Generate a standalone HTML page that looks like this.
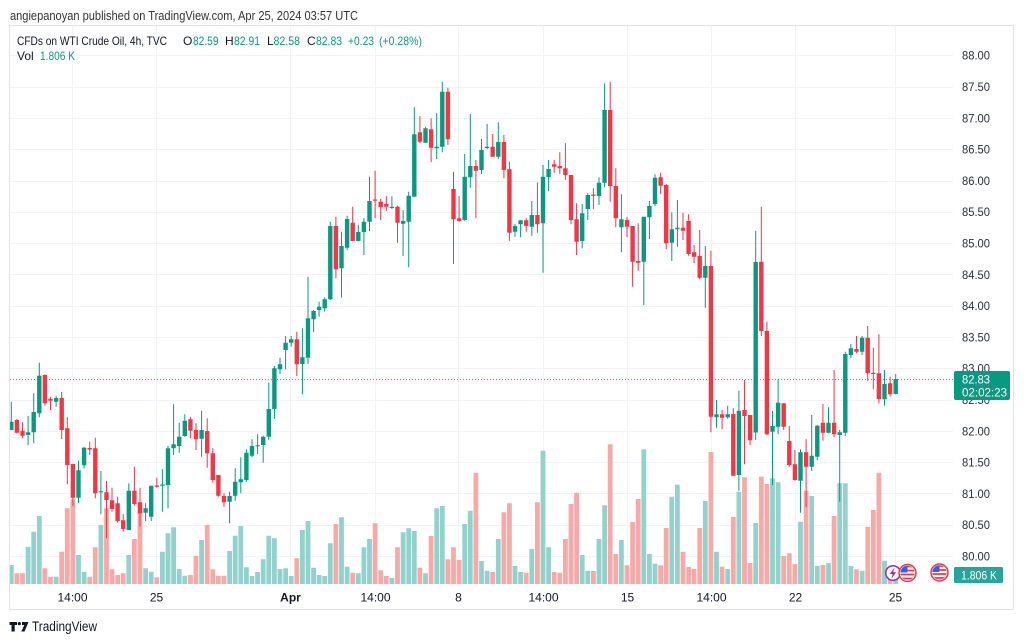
<!DOCTYPE html>
<html><head><meta charset="utf-8"><style>
html,body{margin:0;padding:0;background:#fff;}
svg{display:block;}
text{font-family:"Liberation Sans",Arial,sans-serif;}
</style></head><body>
<svg width="1024" height="643" viewBox="0 0 1024 643" xmlns="http://www.w3.org/2000/svg">
<rect width="1024" height="643" fill="#fff"/>
<text x="10" y="20" font-size="13" fill="#333" textLength="348" lengthAdjust="spacingAndGlyphs">angiepanoyan published on TradingView.com, Apr 25, 2024 03:57 UTC</text>
<rect x="9.5" y="25.5" width="1004" height="584" fill="none" stroke="#e0e3eb"/>
<g stroke="#f0f3fa" stroke-width="1">
<path d="M10 55.5H953M10 87.5H953M10 118.5H953M10 149.5H953M10 181.5H953M10 212.5H953M10 243.5H953M10 274.5H953M10 306.5H953M10 337.5H953M10 368.5H953M10 400.5H953M10 431.5H953M10 462.5H953M10 493.5H953M10 525.5H953M10 556.5H953"/>
<path d="M72.5 26V584M156.5 26V584M290.5 26V584M375.5 26V584M458.5 26V584M543.5 26V584M627.5 26V584M711.5 26V584M795.5 26V584M895.5 26V584"/>
</g>
<g font-size="12" fill="#131722">
<text x="17" y="45" textLength="150" lengthAdjust="spacingAndGlyphs">CFDs on WTI Crude Oil, 4h, TVC</text>
<text x="183" y="45">O</text><text x="193" y="45" fill="#089981" textLength="25.5" lengthAdjust="spacingAndGlyphs">82.59</text>
<text x="225" y="45">H</text><text x="234" y="45" fill="#089981" textLength="26" lengthAdjust="spacingAndGlyphs">82.91</text>
<text x="267" y="45">L</text><text x="273.5" y="45" fill="#089981" textLength="26.5" lengthAdjust="spacingAndGlyphs">82.58</text>
<text x="307" y="45">C</text><text x="316" y="45" fill="#089981" textLength="26" lengthAdjust="spacingAndGlyphs">82.83</text>
<text x="348" y="45" fill="#089981" textLength="26" lengthAdjust="spacingAndGlyphs">+0.23</text>
<text x="379" y="45" fill="#089981" textLength="43" lengthAdjust="spacingAndGlyphs">(+0.28%)</text>
<text x="17" y="60">Vol</text><text x="40" y="60" fill="#089981" textLength="35" lengthAdjust="spacingAndGlyphs">1.806 K</text>
</g>
<defs><clipPath id="plot"><rect x="10" y="26" width="943" height="558"/></clipPath></defs>
<g clip-path="url(#plot)">
<path fill="#92d2cc" d="M8.9 565h4.8V584h-4.8zM25.7 546.7h4.8V584h-4.8zM31.3 531.7h4.8V584h-4.8zM36.9 516h4.8V584h-4.8zM53.7 576.7h4.8V584h-4.8zM76.1 555h4.8V584h-4.8zM81.7 571.7h4.8V584h-4.8zM98.5 525h4.8V584h-4.8zM126.4 555h4.8V584h-4.8zM143.2 568.3h4.8V584h-4.8zM148.8 571.7h4.8V584h-4.8zM160 551.7h4.8V584h-4.8zM165.6 533.3h4.8V584h-4.8zM171.2 527.3h4.8V584h-4.8zM176.8 569h4.8V584h-4.8zM182.4 575.7h4.8V584h-4.8zM199.2 540h4.8V584h-4.8zM227.2 551h4.8V584h-4.8zM232.8 535.7h4.8V584h-4.8zM238.4 526h4.8V584h-4.8zM244 567.3h4.8V584h-4.8zM249.6 576h4.8V584h-4.8zM255.2 572h4.8V584h-4.8zM260.8 559.3h4.8V584h-4.8zM266.4 535.7h4.8V584h-4.8zM272 538.3h4.8V584h-4.8zM277.6 569h4.8V584h-4.8zM283.2 568.3h4.8V584h-4.8zM288.8 576h4.8V584h-4.8zM300 530h4.8V584h-4.8zM305.6 521h4.8V584h-4.8zM311.2 567.7h4.8V584h-4.8zM316.7 575h4.8V584h-4.8zM322.3 576h4.8V584h-4.8zM327.9 543.3h4.8V584h-4.8zM339.1 517.3h4.8V584h-4.8zM344.7 566.7h4.8V584h-4.8zM355.9 573.3h4.8V584h-4.8zM361.5 547.3h4.8V584h-4.8zM367.1 539h4.8V584h-4.8zM389.5 578h4.8V584h-4.8zM400.7 532.3h4.8V584h-4.8zM406.3 528.3h4.8V584h-4.8zM411.9 531h4.8V584h-4.8zM423.1 573.3h4.8V584h-4.8zM434.3 508.3h4.8V584h-4.8zM439.9 506h4.8V584h-4.8zM462.3 524h4.8V584h-4.8zM467.9 510.7h4.8V584h-4.8zM479.1 561h4.8V584h-4.8zM484.7 570.7h4.8V584h-4.8zM495.9 539h4.8V584h-4.8zM512.6 566h4.8V584h-4.8zM518.2 572h4.8V584h-4.8zM529.4 549h4.8V584h-4.8zM540.6 450.7h4.8V584h-4.8zM546.2 547.3h4.8V584h-4.8zM579.8 555h4.8V584h-4.8zM585.4 570.7h4.8V584h-4.8zM596.6 539h4.8V584h-4.8zM602.2 505.3h4.8V584h-4.8zM619 540h4.8V584h-4.8zM641.4 449.3h4.8V584h-4.8zM647 554h4.8V584h-4.8zM652.6 563.7h4.8V584h-4.8zM669.4 496.7h4.8V584h-4.8zM675 484.7h4.8V584h-4.8zM702.9 501h4.8V584h-4.8zM714.1 551.7h4.8V584h-4.8zM725.3 569h4.8V584h-4.8zM736.5 491.7h4.8V584h-4.8zM753.3 523h4.8V584h-4.8zM770.1 478.3h4.8V584h-4.8zM775.7 482.3h4.8V584h-4.8zM798.1 521.7h4.8V584h-4.8zM809.3 496h4.8V584h-4.8zM814.9 566h4.8V584h-4.8zM826.1 563.3h4.8V584h-4.8zM837.3 483.3h4.8V584h-4.8zM842.9 483.3h4.8V584h-4.8zM848.5 566h4.8V584h-4.8zM859.7 570.7h4.8V584h-4.8zM882.1 560.7h4.8V584h-4.8zM893.3 578h4.8V584h-4.8z"/>
<path fill="#f7a9a7" d="M14.5 573.3h4.8V584h-4.8zM20.1 573.3h4.8V584h-4.8zM42.5 568.3h4.8V584h-4.8zM48.1 576.7h4.8V584h-4.8zM59.3 551.7h4.8V584h-4.8zM64.9 508.3h4.8V584h-4.8zM70.5 499.3h4.8V584h-4.8zM87.3 576.7h4.8V584h-4.8zM92.9 547.3h4.8V584h-4.8zM104.1 508.3h4.8V584h-4.8zM109.6 569.3h4.8V584h-4.8zM115.2 575h4.8V584h-4.8zM120.8 573.3h4.8V584h-4.8zM132 539h4.8V584h-4.8zM137.6 503.3h4.8V584h-4.8zM154.4 577.3h4.8V584h-4.8zM188 575h4.8V584h-4.8zM193.6 555.7h4.8V584h-4.8zM204.8 525h4.8V584h-4.8zM210.4 569.3h4.8V584h-4.8zM216 575.7h4.8V584h-4.8zM221.6 575.7h4.8V584h-4.8zM294.4 558.3h4.8V584h-4.8zM333.5 524h4.8V584h-4.8zM350.3 572.7h4.8V584h-4.8zM372.7 523.3h4.8V584h-4.8zM378.3 570.3h4.8V584h-4.8zM383.9 576h4.8V584h-4.8zM395.1 547.3h4.8V584h-4.8zM417.5 567.7h4.8V584h-4.8zM428.7 536h4.8V584h-4.8zM445.5 559.3h4.8V584h-4.8zM451.1 547.3h4.8V584h-4.8zM456.7 560h4.8V584h-4.8zM473.5 472.7h4.8V584h-4.8zM490.3 572h4.8V584h-4.8zM501.5 512.3h4.8V584h-4.8zM507 503.3h4.8V584h-4.8zM523.8 572.7h4.8V584h-4.8zM535 502.3h4.8V584h-4.8zM551.8 572h4.8V584h-4.8zM557.4 572.7h4.8V584h-4.8zM563 539h4.8V584h-4.8zM568.6 504h4.8V584h-4.8zM574.2 492.7h4.8V584h-4.8zM591 571h4.8V584h-4.8zM607.8 444.3h4.8V584h-4.8zM613.4 554h4.8V584h-4.8zM624.6 565.3h4.8V584h-4.8zM630.2 522h4.8V584h-4.8zM635.8 499h4.8V584h-4.8zM658.2 565.3h4.8V584h-4.8zM663.8 528h4.8V584h-4.8zM680.6 551.7h4.8V584h-4.8zM686.2 567h4.8V584h-4.8zM691.7 569h4.8V584h-4.8zM697.3 528h4.8V584h-4.8zM708.5 452h4.8V584h-4.8zM719.7 566.7h4.8V584h-4.8zM730.9 517h4.8V584h-4.8zM742.1 477.3h4.8V584h-4.8zM747.7 563h4.8V584h-4.8zM758.9 476.7h4.8V584h-4.8zM764.5 484h4.8V584h-4.8zM781.3 556h4.8V584h-4.8zM786.9 553.3h4.8V584h-4.8zM792.5 564h4.8V584h-4.8zM803.7 490.7h4.8V584h-4.8zM820.5 565h4.8V584h-4.8zM831.7 516h4.8V584h-4.8zM854.1 569.3h4.8V584h-4.8zM865.3 526.7h4.8V584h-4.8zM870.9 510h4.8V584h-4.8zM876.5 472.7h4.8V584h-4.8zM887.7 570h4.8V584h-4.8z"/>
<path d="M10 379.5H954" stroke="#089981" stroke-width="1" stroke-dasharray="1 2" opacity="0.8"/>
<path fill="none" stroke="#089981" stroke-width="1" d="M11.3 401.7V430M28.1 416V445M33.7 393.3V443.3M39.3 362.7V417.3M56.1 395.7V406.7M78.5 460.7V503.3M84.1 446.7V468.3M100.9 471V514.3M128.8 483.3V530M145.6 503.3V521M151.2 485.7V521M162.4 469.3V511.7M168 446V508.3M173.6 404.3V455M179.2 422.7V452.7M184.8 414.3V436.7M201.6 410.7V456.7M229.6 491.7V523.3M235.2 468.3V500.7M240.8 457.3V493.3M246.4 449.3V481.7M252 439.3V457.3M257.6 434.3V454M263.2 435.7V462.7M268.8 382.7V440M274.4 366V419M280 357.7V374M285.6 336V369.3M291.2 336V346.7M302.4 328.3V394.3M308 276.7V364M313.6 310V332.3M319.1 301.7V316.7M324.7 297.3V311.7M330.3 221.7V300M341.5 231.7V297.7M347.1 215.7V250M358.3 225V241M363.9 218.3V255M369.5 176.7V231M391.9 196.3V209M403.1 210V256M408.7 191.7V267.3M414.3 107.3V196.7M425.5 126.7V142.7M436.7 113.3V159M442.3 81.7V152.3M464.7 154V220.7M470.3 114V187.7M481.5 139V174M487.1 124V149M498.3 122.3V159M515 224V236.7M520.6 220V237.3M531.8 201V235.7M543 165V272.7M548.6 160V191M582.2 204V248.3M587.8 193.3V220M599 177.3V205M604.6 83.3V187.3M621.4 194.3V252.3M643.8 216.7V305M649.4 201V239M655 174.3V206M671.8 212.3V261M677.4 200V246.7M705.3 246V307.7M716.5 400V427.7M727.7 405.7V418.7M738.9 390.7V490.7M755.7 230.7V440M772.5 411V485M778.1 379.3V434.3M800.5 449.3V512.7M811.7 415V471M817.3 425V460M828.5 407.3V433.3M839.7 430V501.7M845.3 351.7V436M850.9 344V358.3M862.1 336V355M884.5 370V405.7M895.7 374V394.3"/>
<path fill="#089981" d="M9.1 421.7h4.4V430h-4.4zM25.9 432.3h4.4V435h-4.4zM31.5 412h4.4V432.3h-4.4zM37.1 375.7h4.4V413.3h-4.4zM53.9 398h4.4V401.7h-4.4zM76.3 470.3h4.4V497.7h-4.4zM81.9 447.7h4.4V465.3h-4.4zM98.7 491.2h4.4V492.4h-4.4zM126.6 490.7h4.4V530h-4.4zM143.4 508.3h4.4V512.7h-4.4zM149 485.7h4.4V516.7h-4.4zM160.2 484.5h4.4V485.7h-4.4zM165.8 448.3h4.4V485h-4.4zM171.4 444.3h4.4V448.3h-4.4zM177 436.7h4.4V446h-4.4zM182.6 420.7h4.4V436h-4.4zM199.4 430h4.4V438.7h-4.4zM227.4 496h4.4V501.7h-4.4zM233 481.7h4.4V495.7h-4.4zM238.6 479.3h4.4V482.3h-4.4zM244.2 452.7h4.4V480h-4.4zM249.8 446h4.4V455.7h-4.4zM255.4 445.2h4.4V446.4h-4.4zM261 436.7h4.4V445h-4.4zM266.6 409h4.4V436.7h-4.4zM272.2 368.3h4.4V409h-4.4zM277.8 364.3h4.4V369.3h-4.4zM283.4 342.7h4.4V350h-4.4zM289 339.3h4.4V342.7h-4.4zM300.2 357.3h4.4V364h-4.4zM305.8 318.3h4.4V357.7h-4.4zM311.4 311h4.4V319.3h-4.4zM316.9 306.7h4.4V310h-4.4zM322.5 299.3h4.4V308.3h-4.4zM328.1 226h4.4V299.3h-4.4zM339.3 246h4.4V268.3h-4.4zM344.9 219h4.4V247.7h-4.4zM356.1 232h4.4V241h-4.4zM361.7 221.7h4.4V232h-4.4zM367.3 201h4.4V221.7h-4.4zM389.7 206.8h4.4V208h-4.4zM400.9 221h4.4V223.7h-4.4zM406.5 195.7h4.4V221.7h-4.4zM412.1 134.3h4.4V196.7h-4.4zM423.3 128.3h4.4V142.7h-4.4zM434.5 146.7h4.4V148.3h-4.4zM440.1 91.7h4.4V146.7h-4.4zM462.5 176.7h4.4V220h-4.4zM468.1 166h4.4V177.3h-4.4zM479.3 150h4.4V170h-4.4zM484.9 146.8h4.4V148h-4.4zM496.1 142h4.4V156.7h-4.4zM512.8 226h4.4V231.7h-4.4zM518.4 220.3h4.4V224.3h-4.4zM529.6 215h4.4V226.7h-4.4zM540.8 176.7h4.4V223.3h-4.4zM546.4 169h4.4V177.3h-4.4zM580 213.3h4.4V241h-4.4zM585.6 195h4.4V209h-4.4zM596.8 182.7h4.4V196h-4.4zM602.4 110h4.4V182.7h-4.4zM619.2 219.3h4.4V227.3h-4.4zM641.6 216.7h4.4V261.7h-4.4zM647.2 206h4.4V217.3h-4.4zM652.8 177.7h4.4V204h-4.4zM669.6 229.3h4.4V242.7h-4.4zM675.2 227.7h4.4V229.3h-4.4zM703.1 266h4.4V277.7h-4.4zM714.3 414.3h4.4V417.3h-4.4zM725.5 414.3h4.4V417.3h-4.4zM736.7 410.7h4.4V475h-4.4zM753.5 262h4.4V432.5h-4.4zM770.3 426h4.4V431.7h-4.4zM775.9 402.7h4.4V426.7h-4.4zM798.3 452.3h4.4V480.7h-4.4zM809.5 455.7h4.4V466.7h-4.4zM815.1 425.7h4.4V456.7h-4.4zM826.3 422.7h4.4V432.7h-4.4zM837.5 432.3h4.4V435h-4.4zM843.1 354h4.4V432.7h-4.4zM848.7 348.3h4.4V355h-4.4zM859.9 337.7h4.4V351.7h-4.4zM882.3 384h4.4V399.3h-4.4zM893.5 379h4.4V394h-4.4z"/>
<path fill="none" stroke="#f23645" stroke-width="1" d="M16.9 419V433.3M22.5 422.3V438.3M44.9 374.3V405.7M50.5 396.7V410M61.7 392V439M67.3 417.3V484.3M72.9 464V505.7M89.7 441.7V455M95.3 437.7V498.3M106.5 481V538.3M112 487.7V511.7M117.6 496.7V522.7M123.2 514V531.7M134.4 466.7V505.7M140 487.7V526.7M156.8 477.7V487.7M190.4 416.7V438.3M196 423.3V450M207.2 418.3V467.7M212.8 448.3V482.7M218.4 475V496.7M224 493.3V506.7M296.8 331.7V376M335.9 216.7V278.3M352.7 206.7V241M375.1 170.7V218.3M380.7 199V220M386.3 196.3V211M397.5 205.7V242.7M419.9 116V143.3M431.1 118.3V162.3M447.9 87.7V145M453.5 171.7V264M459.1 196V221.7M475.9 160V218.3M492.7 134V156.7M503.9 135V178.3M509.4 161.7V240.7M526.2 218.3V231.7M537.4 182.3V232.7M554.2 160V172.7M559.8 152.3V174M565.4 143.3V180M571 175V224.3M576.6 203.3V255M593.4 188.3V209.3M610.2 81.7V201.7M615.8 168.3V227.3M627 216.7V237.3M632.6 226V286.7M638.2 223.3V270.7M660.6 172.7V194M666.2 184V249.3M683 212.7V240M688.6 214.3V255.7M694.1 245V263.3M699.7 230V279.3M710.9 250.7V432.3M722.1 410V429M733.3 408.3V475.7M744.5 380V464.3M750.1 415V445M761.3 206.7V336M766.9 321.7V435M783.7 403.3V430M789.3 426V466.7M794.9 450V480.7M806.1 439.3V507.3M822.9 404V440.7M834.1 370V437.3M856.5 336V353.3M867.7 326V380.7M873.3 347.7V389.3M878.9 334.3V403.3M890.1 376.7V396.7"/>
<path fill="#f23645" d="M14.7 420h4.4V432.7h-4.4zM20.3 430.7h4.4V435.7h-4.4zM42.7 375h4.4V403.3h-4.4zM48.3 398.7h4.4V400.7h-4.4zM59.5 398h4.4V430h-4.4zM65.1 428.3h4.4V465h-4.4zM70.7 464h4.4V497.7h-4.4zM87.5 448h4.4V449.5h-4.4zM93.1 448.3h4.4V493.3h-4.4zM104.3 492.3h4.4V500h-4.4zM109.8 500.3h4.4V509h-4.4zM115.4 503.3h4.4V521h-4.4zM121 520.3h4.4V529h-4.4zM132.2 490.7h4.4V504h-4.4zM137.8 502.3h4.4V513.3h-4.4zM154.6 485.5h4.4V486.7h-4.4zM188.2 419.3h4.4V430.7h-4.4zM193.8 430h4.4V439.3h-4.4zM205 431h4.4V453.3h-4.4zM210.6 453.3h4.4V480h-4.4zM216.2 475h4.4V495.7h-4.4zM221.8 496h4.4V502.3h-4.4zM294.6 339.3h4.4V364.3h-4.4zM333.7 226h4.4V269.3h-4.4zM350.5 222.7h4.4V241h-4.4zM372.9 199.5h4.4V200.7h-4.4zM378.5 201.7h4.4V207.3h-4.4zM384.1 204h4.4V206.7h-4.4zM395.3 206.7h4.4V222.7h-4.4zM417.7 132.3h4.4V141.7h-4.4zM428.9 129.3h4.4V147.7h-4.4zM445.7 91.7h4.4V139.3h-4.4zM451.3 189h4.4V219.3h-4.4zM456.9 218.3h4.4V221h-4.4zM473.7 166h4.4V170.7h-4.4zM490.5 146.7h4.4V156.7h-4.4zM501.7 142h4.4V170h-4.4zM507.2 169.3h4.4V232.7h-4.4zM524 220.3h4.4V226h-4.4zM535.2 215h4.4V224.3h-4.4zM552 164.3h4.4V166.7h-4.4zM557.6 166h4.4V168.3h-4.4zM563.2 168.3h4.4V175h-4.4zM568.8 175h4.4V220h-4.4zM574.4 219.3h4.4V241.7h-4.4zM591.2 194.5h4.4V195.7h-4.4zM608 110h4.4V186h-4.4zM613.6 186h4.4V218.3h-4.4zM624.8 220h4.4V226.7h-4.4zM630.4 226h4.4V261.7h-4.4zM636 261h4.4V262.7h-4.4zM658.4 177.3h4.4V185.7h-4.4zM664 185h4.4V243.3h-4.4zM680.8 227.7h4.4V230.7h-4.4zM686.4 221h4.4V254h-4.4zM691.9 252.3h4.4V256.7h-4.4zM697.5 256h4.4V277.7h-4.4zM708.7 266h4.4V416.7h-4.4zM719.9 414.3h4.4V417.7h-4.4zM731.1 414h4.4V475.7h-4.4zM742.3 410h4.4V416h-4.4zM747.9 415h4.4V440.3h-4.4zM759.1 261.7h4.4V331h-4.4zM764.7 331h4.4V434.3h-4.4zM781.5 403.3h4.4V426.7h-4.4zM787.1 441h4.4V465h-4.4zM792.7 464.3h4.4V480h-4.4zM803.9 452.3h4.4V466.7h-4.4zM820.7 422.7h4.4V432.7h-4.4zM831.9 422.7h4.4V434.3h-4.4zM854.3 349h4.4V351.7h-4.4zM865.5 337.7h4.4V373.3h-4.4zM871.1 372.8h4.4V374h-4.4zM876.7 373.3h4.4V399h-4.4zM887.9 383.3h4.4V394.3h-4.4z"/>
</g>
<g font-size="11.5" fill="#2a2e39">
<text x="962" y="59.7" textLength="28" lengthAdjust="spacingAndGlyphs">88.00</text>
<text x="962" y="91" textLength="28" lengthAdjust="spacingAndGlyphs">87.50</text>
<text x="962" y="122.3" textLength="28" lengthAdjust="spacingAndGlyphs">87.00</text>
<text x="962" y="153.6" textLength="28" lengthAdjust="spacingAndGlyphs">86.50</text>
<text x="962" y="184.9" textLength="28" lengthAdjust="spacingAndGlyphs">86.00</text>
<text x="962" y="216.2" textLength="28" lengthAdjust="spacingAndGlyphs">85.50</text>
<text x="962" y="247.5" textLength="28" lengthAdjust="spacingAndGlyphs">85.00</text>
<text x="962" y="278.8" textLength="28" lengthAdjust="spacingAndGlyphs">84.50</text>
<text x="962" y="310.1" textLength="28" lengthAdjust="spacingAndGlyphs">84.00</text>
<text x="962" y="341.4" textLength="28" lengthAdjust="spacingAndGlyphs">83.50</text>
<text x="962" y="372.7" textLength="28" lengthAdjust="spacingAndGlyphs">83.00</text>
<text x="962" y="404" textLength="28" lengthAdjust="spacingAndGlyphs">82.50</text>
<text x="962" y="435.3" textLength="28" lengthAdjust="spacingAndGlyphs">82.00</text>
<text x="962" y="466.6" textLength="28" lengthAdjust="spacingAndGlyphs">81.50</text>
<text x="962" y="497.9" textLength="28" lengthAdjust="spacingAndGlyphs">81.00</text>
<text x="962" y="529.2" textLength="28" lengthAdjust="spacingAndGlyphs">80.50</text>
<text x="962" y="560.5" textLength="28" lengthAdjust="spacingAndGlyphs">80.00</text>
</g>
<rect x="954" y="371" width="56" height="29" rx="2" fill="#089981"/>
<text x="962" y="383.5" font-size="11.5" fill="#fff" textLength="28" lengthAdjust="spacingAndGlyphs">82.83</text>
<text x="962" y="396.5" font-size="11.5" fill="#fff" textLength="45" lengthAdjust="spacingAndGlyphs">02:02:23</text>
<rect x="954" y="567" width="49" height="16" rx="1.5" fill="#26a69a"/>
<text x="961" y="579.5" font-size="11.5" fill="#fff" textLength="36" lengthAdjust="spacingAndGlyphs">1.806 K</text>
<g>
<circle cx="893" cy="573" r="7.3" fill="#fff" stroke="#9c27b0" stroke-width="1.5"/>
<path d="M894.5 567.5L889.8 574h3l-1.5 5 4.8-6.8h-3z" fill="#9c27b0"/>
<clipPath id="f1"><circle cx="907.5" cy="573" r="7.2"/></clipPath>
<circle cx="907.5" cy="573" r="8.5" fill="#fff" stroke="#f23645" stroke-width="1.5"/>
<g clip-path="url(#f1)">
<rect x="899" y="565" width="17" height="17" fill="#fff"/>
<path d="M899 566.5h17M899 570.5h17M899 574.5h17M899 578.5h17" stroke="#f23645" stroke-width="1.8"/>
<rect x="899" y="565" width="8.5" height="7.5" fill="#2962ff"/>
</g>
<clipPath id="f2"><circle cx="939.5" cy="572.5" r="7.2"/></clipPath>
<circle cx="939.5" cy="572.5" r="8.5" fill="#fff" stroke="#f23645" stroke-width="1.5"/>
<g clip-path="url(#f2)">
<rect x="931" y="564.5" width="17" height="17" fill="#fff"/>
<path d="M931 566h17M931 570h17M931 574h17M931 578h17" stroke="#f23645" stroke-width="1.8"/>
<rect x="931" y="564.5" width="8.5" height="7.5" fill="#2962ff"/>
</g>
</g>
<g font-size="12" fill="#131722" text-anchor="middle">
<text x="72.5" y="601.5">14:00</text>
<text x="156.5" y="601.5">25</text>
<text x="290.5" y="601.5" font-weight="bold">Apr</text>
<text x="375.5" y="601.5">14:00</text>
<text x="458.5" y="601.5">8</text>
<text x="543.5" y="601.5">14:00</text>
<text x="627.5" y="601.5">15</text>
<text x="711.5" y="601.5">14:00</text>
<text x="795.5" y="601.5">22</text>
<text x="895.5" y="601.5">25</text>
</g>
<g fill="#131722">
<path d="M9.5 622h7.5v3h-2.3v6.5h-3.2v-6.5h-2z"/>
<circle cx="19.3" cy="623.6" r="1.6"/>
<path d="M22 622h6.5l-4 9.5h-3.2l3-6.5h-2.3z"/>
</g>
<text x="32" y="631" font-size="13.5" fill="#131722" textLength="65" lengthAdjust="spacingAndGlyphs">TradingView</text>
</svg>
</body></html>
